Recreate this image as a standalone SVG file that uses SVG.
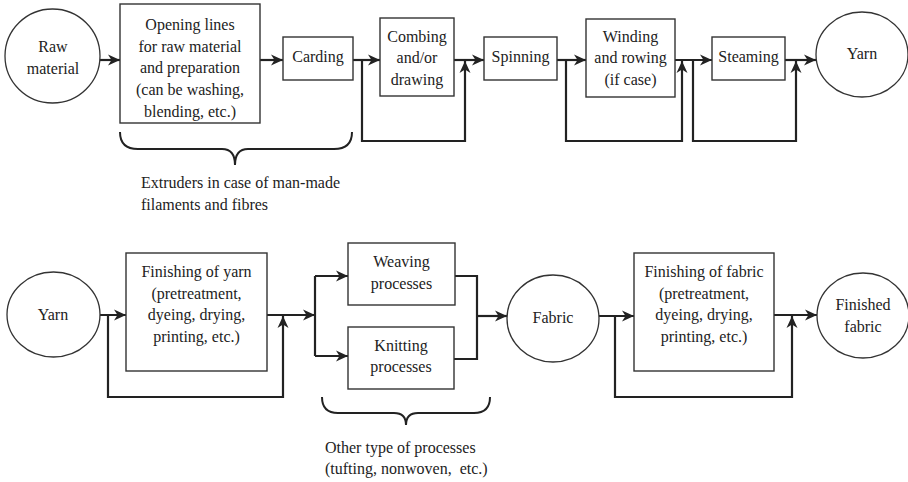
<svg xmlns="http://www.w3.org/2000/svg" width="908" height="482" viewBox="0 0 908 482">
<style>
.box{fill:#fff;stroke:#333;stroke-width:1.4}
.ell{fill:#fff;stroke:#333;stroke-width:1.3}
.t{font-family:"Liberation Serif","Times New Roman",serif;font-size:16px;fill:#222;text-anchor:middle}
.l{text-anchor:start}
.c{fill:none;stroke:#222;stroke-width:2.2}
.br{fill:none;stroke:#222;stroke-width:2}
</style>
<defs>
<marker id="ah" markerUnits="userSpaceOnUse" markerWidth="13" markerHeight="12" refX="12" refY="6" orient="auto">
<path d="M0,0.5 L12,6 L0,11.5 L3.5,6 z" fill="#222"/>
</marker>
</defs>
<rect width="908" height="482" fill="#fff"/>

<g id="connectors">
<path class="c" d="M92,60 H120" marker-end="url(#ah)"/>
<path class="c" d="M260,60 H283" marker-end="url(#ah)"/>
<path class="c" d="M353,60 H380" marker-end="url(#ah)"/>
<path class="c" d="M362,60 V141 H465 V61" marker-end="url(#ah)"/>
<path class="c" d="M454,60 H484" marker-end="url(#ah)"/>
<path class="c" d="M557,60 H586" marker-end="url(#ah)"/>
<path class="c" d="M566,60 V141 H682 V61" marker-end="url(#ah)"/>
<path class="c" d="M675,60 H712" marker-end="url(#ah)"/>
<path class="c" d="M693,60 V141 H796 V61" marker-end="url(#ah)"/>
<path class="c" d="M785,60 H816" marker-end="url(#ah)"/>

<path class="c" d="M92,315 H126" marker-end="url(#ah)"/>
<path class="c" d="M108,315 V397 H283 V316" marker-end="url(#ah)"/>
<path class="c" d="M267,315 H315" marker-end="url(#ah)"/>
<path class="c" d="M315,276 V356"/>
<path class="c" d="M315,276 H348" marker-end="url(#ah)"/>
<path class="c" d="M315,356 H348" marker-end="url(#ah)"/>
<path class="c" d="M455,276 H477 V359 H454"/>
<path class="c" d="M477,316 H507" marker-end="url(#ah)"/>
<path class="c" d="M599,316 H634" marker-end="url(#ah)"/>
<path class="c" d="M615,316 V397 H792 V316" marker-end="url(#ah)"/>
<path class="c" d="M774,315 H817" marker-end="url(#ah)"/>
</g>

<g id="raw-material">
<ellipse class="ell" cx="52.5" cy="56" rx="47.5" ry="47"/>
<text class="t" x="53" y="52">Raw</text>
<text class="t" x="53" y="73.5">material</text>
</g>
<g id="opening-lines">
<rect class="box" x="120" y="4" width="140" height="119"/>
<text class="t" x="190" y="30">Opening lines</text>
<text class="t" x="190" y="51.7">for raw material</text>
<text class="t" x="190" y="73.4">and preparation</text>
<text class="t" x="190" y="95.1">(can be washing,</text>
<text class="t" x="190" y="116.8">blending, etc.)</text>
</g>
<g id="carding">
<rect class="box" x="283" y="37" width="70" height="43"/>
<text class="t" x="318" y="61.5">Carding</text>
</g>
<g id="combing">
<rect class="box" x="380" y="18" width="74" height="78"/>
<text class="t" x="417" y="41.7">Combing</text>
<text class="t" x="417" y="63.4">and/or</text>
<text class="t" x="417" y="85">drawing</text>
</g>
<g id="spinning">
<rect class="box" x="484" y="37" width="73" height="43"/>
<text class="t" x="520.5" y="61.5">Spinning</text>
</g>
<g id="winding">
<rect class="box" x="586" y="19" width="89" height="78"/>
<text class="t" x="630.5" y="41.7">Winding</text>
<text class="t" x="630.5" y="63.4">and rowing</text>
<text class="t" x="630.5" y="85">(if case)</text>
</g>
<g id="steaming">
<rect class="box" x="712" y="37" width="73" height="43"/>
<text class="t" x="748.5" y="61.5">Steaming</text>
</g>
<g id="yarn-top">
<ellipse class="ell" cx="862" cy="54.5" rx="46" ry="42.5"/>
<text class="t" x="862" y="58.5">Yarn</text>
</g>
<g id="extruders-note">
<path class="br" d="M120,132 Q120,149 138,149 L222,149 Q235,149 235,165 Q235,149 248,149 L334,149 Q352,149 352,132"/>
<text class="t l" x="141" y="188.3">Extruders in case of man-made</text>
<text class="t l" x="141" y="210">filaments and fibres</text>
</g>

<g id="yarn-bottom">
<ellipse class="ell" cx="53.5" cy="314.5" rx="46.5" ry="42.5"/>
<text class="t" x="53" y="319.5">Yarn</text>
</g>
<g id="finishing-yarn">
<rect class="box" x="126" y="253" width="141" height="118"/>
<text class="t" x="196.5" y="277">Finishing of yarn</text>
<text class="t" x="196.5" y="298.7">(pretreatment,</text>
<text class="t" x="196.5" y="320.4">dyeing, drying,</text>
<text class="t" x="196.5" y="342.1">printing, etc.)</text>
</g>
<g id="weaving">
<rect class="box" x="348" y="243" width="107" height="62"/>
<text class="t" x="401.5" y="267.3">Weaving</text>
<text class="t" x="401.5" y="288.5">processes</text>
</g>
<g id="knitting">
<rect class="box" x="348" y="327" width="106" height="62"/>
<text class="t" x="401" y="351">Knitting</text>
<text class="t" x="401" y="372">processes</text>
</g>
<g id="fabric">
<ellipse class="ell" cx="553" cy="318.5" rx="46" ry="43.5"/>
<text class="t" x="553" y="322.7">Fabric</text>
</g>
<g id="finishing-fabric">
<rect class="box" x="634" y="253" width="140" height="118"/>
<text class="t" x="704" y="277">Finishing of fabric</text>
<text class="t" x="704" y="298.7">(pretreatment,</text>
<text class="t" x="704" y="320.4">dyeing, drying,</text>
<text class="t" x="704" y="342.1">printing, etc.)</text>
</g>
<g id="finished-fabric">
<ellipse class="ell" cx="863" cy="315.5" rx="46" ry="42.5"/>
<text class="t" x="863" y="310">Finished</text>
<text class="t" x="863" y="331.7">fabric</text>
</g>
<g id="other-processes-note">
<path class="br" d="M322,397 Q322,413 338,413 L394,413 Q406,413 406,425 Q406,413 418,413 L474,413 Q490,413 490,397"/>
<text class="t l" x="325" y="453">Other type of processes</text>
<text class="t l" x="325" y="473.5" xml:space="preserve">(tufting, nonwoven,  etc.)</text>
</g>
</svg>
